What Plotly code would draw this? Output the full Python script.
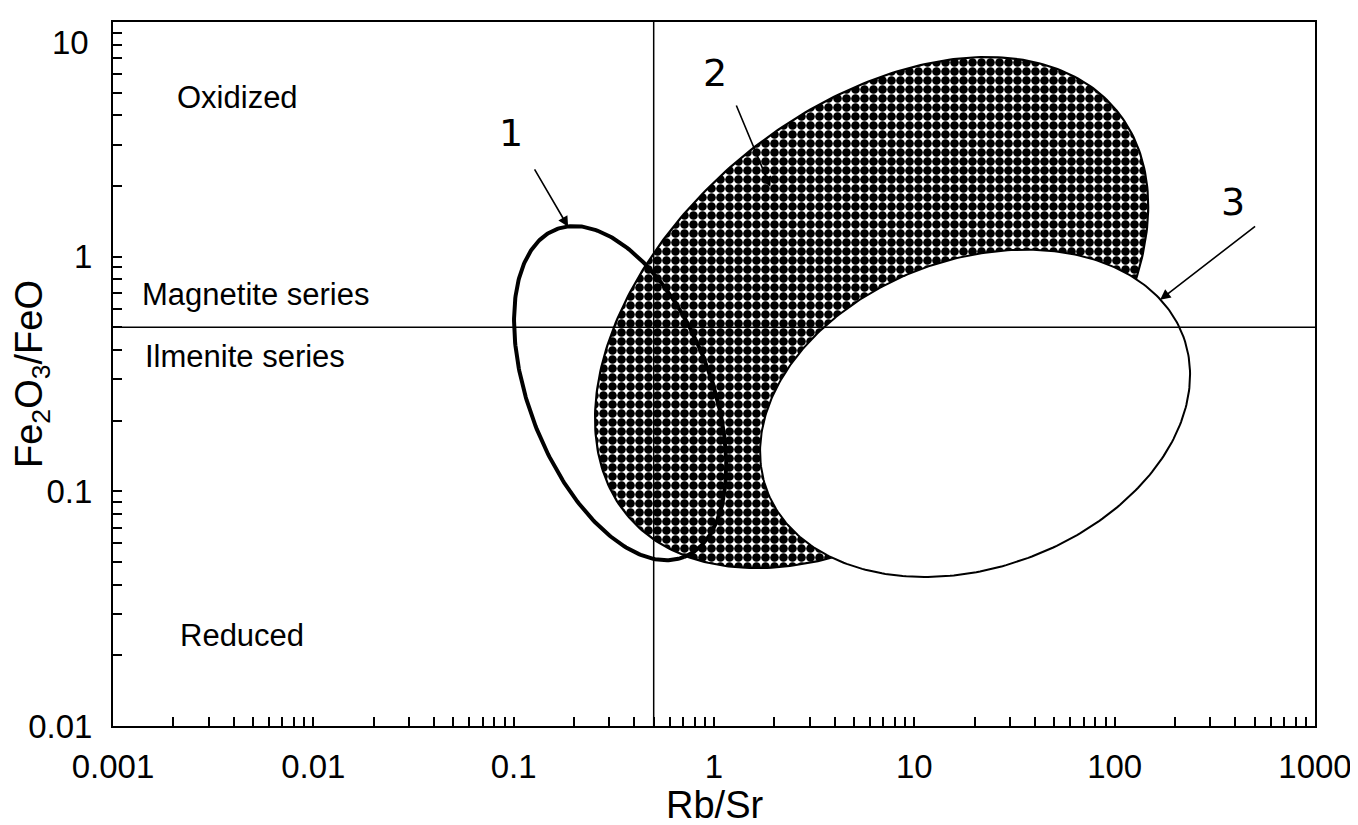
import numpy as np
import plotly.graph_objects as go

# ---------------- data ----------------
x_tickvals = [0.001, 0.01, 0.1, 1, 10, 100, 1000]
x_ticktext = ["0.001", "0.01", "0.1", "1", "10", "100", "1000"]
y_tickvals = [0.01, 0.1, 1, 10]
y_ticktext = ["0.01", "0.1", "1", "10"]

# boundary values
rbsr_boundary = 0.5
fe_boundary = 0.5

# fields (ellipses in log-log space): centre, semi-axes (decades of Rb/Sr), tilt
field_names = ["1", "2", "3"]
center_rbsr = [0.34, 6.12, 20.1]
center_fe = [0.262, 0.578, 0.215]
semi_major = [0.878, 1.585, 1.108]
semi_minor = [0.453, 1.010, 0.769]
tilt_deg = [-68.6, 39.6, 20.2]

# field label positions and arrow tips
label_rbsr = [0.097, 1.01, 391.0]
label_fe = [3.37, 6.07, 1.71]
tip_rbsr = [0.187, 1.91, 168.6]
tip_fe = [1.34, 1.98, 0.655]
tail_dx = [-35, -35, 97]
tail_dy = [-60, -84, -75]

# region labels
region_text = ["Oxidized", "Magnetite series", "Ilmenite series", "Reduced"]
region_rbsr = [0.00416, 0.00512, 0.00456, 0.0044]
region_fe = [4.79, 0.687, 0.374, 0.0244]

# ---------------- layout geometry ----------------
W, H = 1350, 817
ML, MR, MT, MB = 105, 43, 14, 99
plot_w = W - ML - MR
plot_h = H - MT - MB
ASPECT = (plot_w / 6.0) / (plot_h / 3.0)


def ellipse(cx, cy, a, b, ang, n=361):
    t = np.linspace(0, 2 * np.pi, n)
    th = np.radians(ang)
    dx = a * np.cos(th) * np.cos(t) - b * np.sin(th) * np.sin(t)
    dy = (a * np.sin(th) * np.cos(t) + b * np.cos(th) * np.sin(t)) * ASPECT
    return 10 ** (np.log10(cx) + dx), 10 ** (np.log10(cy) + dy)


fig = go.Figure()

# field 2: patterned
x2, y2 = ellipse(center_rbsr[1], center_fe[1], semi_major[1], semi_minor[1], tilt_deg[1])
fig.add_trace(go.Scatter(x=x2, y=y2, mode="lines", fill="toself",
                         line=dict(color="black", width=2.2),
                         fillcolor="white",
                         fillpattern=dict(shape=".", fgcolor="black", bgcolor="white",
                                          size=9, solidity=0.72, fillmode="replace"),
                         hoverinfo="skip", showlegend=False))
# field 3: white
x3, y3 = ellipse(center_rbsr[2], center_fe[2], semi_major[2], semi_minor[2], tilt_deg[2])
fig.add_trace(go.Scatter(x=x3, y=y3, mode="lines", fill="toself",
                         line=dict(color="black", width=2), fillcolor="white",
                         hoverinfo="skip", showlegend=False))

# boundary lines
fig.add_trace(go.Scatter(x=[rbsr_boundary, rbsr_boundary], y=[0.01, 10], mode="lines",
                         line=dict(color="black", width=1.5), hoverinfo="skip", showlegend=False))
fig.add_trace(go.Scatter(x=[0.001, 1000], y=[fe_boundary, fe_boundary], mode="lines",
                         line=dict(color="black", width=1.5), hoverinfo="skip", showlegend=False))

# field 1: thick outline
x1, y1 = ellipse(center_rbsr[0], center_fe[0], semi_major[0], semi_minor[0], tilt_deg[0])
fig.add_trace(go.Scatter(x=x1, y=y1, mode="lines",
                         line=dict(color="black", width=4),
                         hoverinfo="skip", showlegend=False))

font_main = "Liberation Sans, Arial, Helvetica, sans-serif"

annotations = []
for txt, xv, yv in zip(region_text, region_rbsr, region_fe):
    annotations.append(dict(x=np.log10(xv), y=np.log10(yv), xref="x", yref="y",
                            text=txt, showarrow=False,
                            font=dict(family=font_main, size=31, color="black")))
for name, lx, ly, tx, ty, adx, ady in zip(field_names, label_rbsr, label_fe,
                                          tip_rbsr, tip_fe, tail_dx, tail_dy):
    annotations.append(dict(x=np.log10(lx), y=np.log10(ly), xref="x", yref="y",
                            text=name, showarrow=False,
                            font=dict(family="DejaVu Sans, sans-serif", size=38, color="black")))
    annotations.append(dict(x=np.log10(tx), y=np.log10(ty), xref="x", yref="y",
                            text=" ", showarrow=True, ax=adx, ay=ady,
                            arrowhead=2, arrowsize=1.3, arrowwidth=1.6, arrowcolor="black",
                            font=dict(size=2)))

# top y tick label, nudged down inside the figure as in the reference
annotations.append(dict(x=0, y=np.log10(y_tickvals[-1]), xref="paper", yref="y",
                        xanchor="right", yanchor="top", xshift=-22, yshift=0,
                        text=y_ticktext[-1], showarrow=False,
                        font=dict(family=font_main, size=33, color="black")))

# axis titles placed as paper-anchored text
annotations.append(dict(x=0.5, y=0, xref="paper", yref="paper", yanchor="middle",
                        yshift=-79, text="Rb/Sr", showarrow=False,
                        font=dict(family=font_main, size=38, color="black")))
annotations.append(dict(x=0, y=0.5, xref="paper", yref="paper", xanchor="center",
                        xshift=-81, text="Fe<sub>2</sub>O<sub>3</sub>/FeO", textangle=-90,
                        showarrow=False,
                        font=dict(family=font_main, size=38, color="black")))

fig.update_layout(
    width=W, height=H,
    margin=dict(l=ML, r=MR, t=MT, b=MB, autoexpand=False),
    paper_bgcolor="white", plot_bgcolor="white",
    annotations=annotations,
    font=dict(family=font_main, color="black"),
)

fig.update_xaxes(type="log", range=[-3, 3], showgrid=False, zeroline=False, automargin=False,
                 showline=True, linecolor="black", linewidth=2, mirror=True,
                 tickvals=x_tickvals, ticktext=x_ticktext,
                 ticks="inside", ticklen=9, tickwidth=1.5, tickcolor="black",
                 minor=dict(ticks="inside", ticklen=9, tickwidth=1.5, tickcolor="black",
                            dtick="D1", showgrid=False),
                 ticklabelstandoff=10, ticklabeloverflow="allow",
                 tickfont=dict(family=font_main, size=33, color="black"))
fig.update_yaxes(type="log", range=[-2, 1], showgrid=False, zeroline=False, automargin=False,
                 showline=True, linecolor="black", linewidth=2, mirror=True,
                 tickvals=y_tickvals, ticktext=y_ticktext[:-1] + [""],
                 ticks="inside", ticklen=9, tickwidth=1.5, tickcolor="black",
                 minor=dict(ticks="inside", ticklen=9, tickwidth=1.5, tickcolor="black",
                            dtick="D1", showgrid=False),
                 ticklabelstandoff=12, ticklabeloverflow="allow",
                 tickfont=dict(family=font_main, size=33, color="black"))

fig.write_html("out.html")
